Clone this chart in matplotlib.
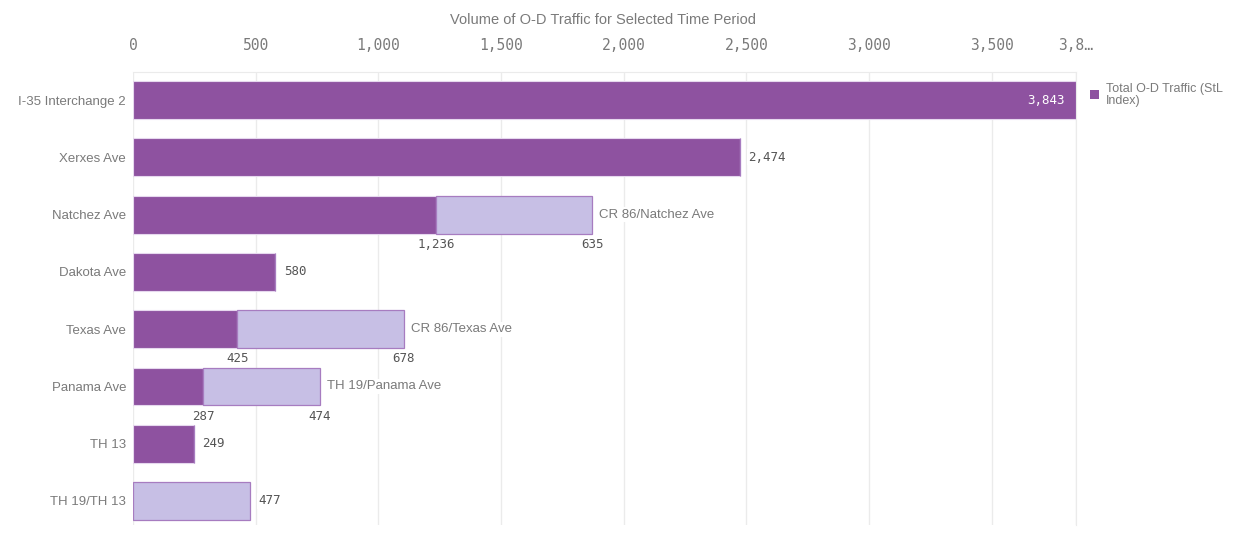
import matplotlib
matplotlib.use("Agg")
import matplotlib.pyplot as plt
from matplotlib.patches import Rectangle

categories = ["I-35 Interchange 2", "Xerxes Ave", "Natchez Ave", "Dakota Ave",
              "Texas Ave", "Panama Ave", "TH 13", "TH 19/TH 13"]
dark_values = [3843, 2474, 1236, 580, 425, 287, 249, 0]
light_values = [0, 0, 635, 0, 678, 474, 0, 477]
light_names = ["", "", "CR 86/Natchez Ave", "", "CR 86/Texas Ave", "TH 19/Panama Ave", "", ""]
tick_values = [0, 500, 1000, 1500, 2000, 2500, 3000, 3500, 3843]
tick_labels = ["0", "500", "1,000", "1,500", "2,000", "2,500", "3,000", "3,500", "3,8…"]
title = "Volume of O-D Traffic for Selected Time Period"
legend_label = "Total O-D Traffic (StL\nIndex)"

DARK = "#8e52a0"
LIGHT = "#c7bfe5"
EDGE_L = "#a77cc0"
GREY = "#7a7a7a"
GRID = "#ebebeb"
SANS = ["Liberation Sans", "DejaVu Sans"]
MONO = ["DejaVu Sans Mono"]

fig = plt.figure(figsize=(12.34, 5.39), dpi=100)
ax = fig.add_axes([0.1078, 0.026, 0.764, 0.8404])

y = list(range(len(categories)))
h = 0.66
ax.barh(y, dark_values, height=h, color=DARK, edgecolor="#e6d8ee", linewidth=0.8, zorder=3)
ax.barh(y, light_values, left=dark_values, height=h, color=LIGHT, edgecolor=EDGE_L,
        linewidth=0.9, zorder=3)

xmax = max(d + l for d, l in zip(dark_values, light_values))
ax.set_xlim(0, xmax)
ax.set_ylim(len(categories) - 1 + 0.42, -0.49)

ax.set_xticks(tick_values)
ax.set_xticklabels(tick_labels, family=MONO, fontsize=10.5, color=GREY)
ax.xaxis.tick_top()
ax.tick_params(axis="x", length=0, pad=14)
ax.set_yticks(y)
ax.set_yticklabels(categories, family=SANS, fontsize=9.5, color=GREY)
ax.tick_params(axis="y", length=0, pad=5)
ax.grid(axis="x", color=GRID, linewidth=1, zorder=0)
ax.grid(axis="y", visible=False)
for s in ["bottom", "left"]:
    ax.spines[s].set_visible(False)
ax.spines["top"].set_color(GRID)
ax.spines["right"].set_color(GRID)
ax.spines["right"].set_zorder(0)

box = dict(facecolor="white", edgecolor="none", pad=1)
for i, (d, l, name) in enumerate(zip(dark_values, light_values, light_names)):
    total = d + l
    if l == 0:
        if d >= xmax * 0.9:
            ax.annotate(f"{d:,}", (d, i), xytext=(-8, 0), textcoords="offset points",
                        ha="right", va="center", color="white", family=MONO,
                        fontsize=9, zorder=4)
        else:
            ax.annotate(f"{d:,}", (d, i), xytext=(6, 0), textcoords="offset points",
                        ha="left", va="center", color="#555555", family=MONO,
                        fontsize=9, zorder=4, bbox=box)
    elif d == 0:
        ax.annotate(f"{l:,}", (l, i), xytext=(6, 0), textcoords="offset points",
                    ha="left", va="center", color="#555555", family=MONO,
                    fontsize=9, zorder=4, bbox=box)
    else:
        ax.annotate(name, (total, i), xytext=(5, 0), textcoords="offset points",
                    ha="left", va="center", color=GREY, family=SANS,
                    fontsize=9.5, zorder=4, bbox=box)
        ax.text(d, i + 0.52, f"{d:,}", ha="center", va="center", color="#555555",
                family=MONO, fontsize=9, zorder=5)
        ax.text(total, i + 0.52, f"{l:,}", ha="center", va="center", color="#555555",
                family=MONO, fontsize=9, zorder=5)

fig.text(0.489, 0.963, title, ha="center", va="center", color=GREY,
         family=SANS, fontsize=10.5)

# legend
fig.patches.append(Rectangle((0.8832, 0.816), 0.0075, 0.0175, transform=fig.transFigure,
                             facecolor=DARK, edgecolor="none"))
fig.text(0.896, 0.824, legend_label, ha="left", va="center", color=GREY,
         family=SANS, fontsize=9, linespacing=0.95)

fig.savefig("out.png", dpi=100)
